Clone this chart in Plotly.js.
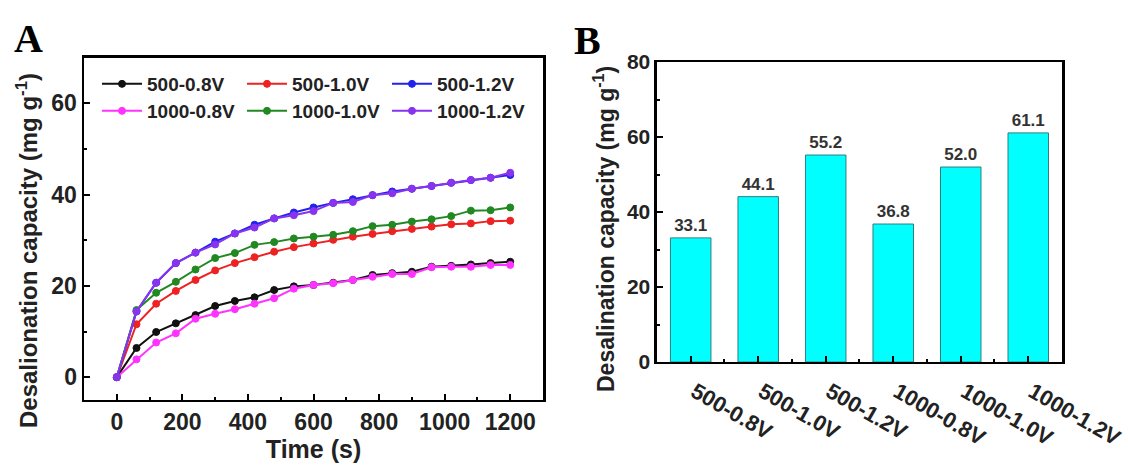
<!DOCTYPE html>
<html><head><meta charset="utf-8">
<script src="https://cdn.plot.ly/plotly-3.0.1.min.js"></script>
<style>html,body{margin:0;padding:0;background:#fff}#chart{width:1128px;height:470px}</style>
</head><body><div id="chart"></div>
<script>
const time = [0,60,120,180,240,300,360,420,480,540,600,660,720,780,840,900,960,1020,1080,1140,1200];
const s500_08 = [0,6.4,9.9,11.8,13.6,15.6,16.7,17.5,19.1,19.9,20.2,20.7,21.3,22.4,22.8,23.1,24.2,24.4,24.7,25.0,25.3];
const s500_10 = [0,11.6,16.1,18.9,21.3,23.4,25.0,26.3,27.5,28.5,29.3,30.1,30.8,31.4,32.0,32.5,33.0,33.5,33.7,34.2,34.3];
const s500_12 = [0,14.4,20.7,25.0,27.3,29.7,31.5,33.4,34.8,36.1,37.2,38.2,39.0,39.9,40.7,41.3,41.9,42.6,43.2,43.7,44.3];
const s1000_08 = [0,3.9,7.6,9.6,12.8,13.9,14.9,16.1,17.3,19.4,20.2,20.6,21.3,22.0,22.6,22.6,24.1,24.2,24.2,24.6,24.6];
const s1000_10 = [0,14.7,18.5,20.9,23.6,26.1,27.2,29.0,29.6,30.4,30.8,31.2,32.0,33.1,33.4,34.1,34.6,35.3,36.5,36.6,37.2];
const s1000_12 = [0,14.4,20.7,25.0,27.3,29.1,31.5,32.8,34.8,35.5,36.4,38.2,38.4,39.9,40.3,41.3,41.9,42.6,43.2,43.7,44.8];
const seriesNames = ['500-0.8V','500-1.0V','500-1.2V','1000-0.8V','1000-1.0V','1000-1.2V'];
const seriesColors = ['#111111','#ee2222','#2222ee','#ff33ff','#228822','#8833ee'];
const categories = ['500-0.8V','500-1.0V','500-1.2V','1000-0.8V','1000-1.0V','1000-1.2V'];
const capacity = [33.1,44.1,55.2,36.8,52.0,61.1];

const F = 'Liberation Sans, Arial, sans-serif';
const seriesData = [s500_08,s500_10,s500_12,s1000_08,s1000_10,s1000_12];
const traces = seriesData.map((ys,i)=>({
  type:'scatter', mode:'lines+markers', x:time, y:ys, name:seriesNames[i],
  legend: i < 3 ? 'legend' : 'legend2',
  line:{color:seriesColors[i], width:2},
  marker:{symbol:'circle', size:7, color:seriesColors[i], line:{color:seriesColors[i], width:1}},
  xaxis:'x', yaxis:'y'
}));
traces.push({
  type:'bar', x:categories.map((c,i)=>i), y:capacity, xaxis:'x2', yaxis:'y2', showlegend:false,
  width:0.6, marker:{color:'#00ffff', line:{color:'#2f7f7f', width:1}},
  texttemplate:'%{y:.1f}', textposition:'outside', cliponaxis:false,
  textfont:{family:F, size:17, weight:'bold', color:'#333'}
});

const axBase = {showline:true, linecolor:'#000', linewidth:2.5, mirror:true, ticks:'inside', tickwidth:2, ticklen:6,
  tickcolor:'#000', showgrid:false, zeroline:false, automargin:false,
  tickfont:{family:F, size:23, weight:'bold', color:'#222'}};
const minorBase = {ticks:'inside', ticklen:3, tickwidth:2, tickcolor:'#000'};
const legBase = {orientation:'h', xanchor:'left', yanchor:'top', bgcolor:'rgba(0,0,0,0)',
  font:{family:F, size:19, weight:'bold', color:'#222'}, entrywidth:90, entrywidthmode:'pixels', itemwidth:40};
const titleFont = (s)=>({family:F, size:s, weight:'bold', color:'#222'});

const layout = {
  width:1128, height:470, margin:{l:0,r:0,t:0,b:0}, paper_bgcolor:'#fff', plot_bgcolor:'#fff',
  font:{family:F, weight:'bold', color:'#222'},
  xaxis: Object.assign({}, axBase, {domain:[0.0745,0.4814], range:[-100,1300], tick0:0, dtick:200,
    minor:Object.assign({dtick:100}, minorBase),
    title:{text:'Time (s)', font:titleFont(25), standoff:6}}),
  yaxis: Object.assign({}, axBase, {domain:[0.149,0.877], range:[-5,70], tick0:0, dtick:20,
    minor:Object.assign({dtick:10}, minorBase)}),
  xaxis2: Object.assign({}, axBase, {anchor:'y2', domain:[0.5824,0.9415], range:[-0.5,5.5],
    tickmode:'array', tickvals:categories.map((c,i)=>i), ticktext:categories, tickangle:30,
    ticklabelshift:4, ticklabelstandoff:6, ticklabeloverflow:'allow',
    minor:Object.assign({tickmode:'linear', tick0:0.5, dtick:1}, minorBase),
    tickfont:{family:F, size:22, weight:'bold', color:'#222'}}),
  yaxis2: Object.assign({}, axBase, {anchor:'x2', domain:[0.2298,0.868], range:[0,80], dtick:20,
    minor:Object.assign({dtick:10}, minorBase),
    tickfont:{family:F, size:21, weight:'bold', color:'#222'}}),
  legend: Object.assign({}, legBase, {x:0.086, y:0.8617}),
  legend2: Object.assign({}, legBase, {x:0.086, y:0.8043}),
  showlegend:true,
  annotations:[
    {text:'Desalionation capacity (mg g<sup>-1</sup>)', textangle:-90, xref:'paper', yref:'paper',
     x:27/1128, y:1-251/470, xanchor:'center', yanchor:'middle', showarrow:false, font:titleFont(24)},
    {text:'Desalination capacity (mg g<sup>-1</sup>)', textangle:-90, xref:'paper', yref:'paper',
     x:604/1128, y:1-229/470, xanchor:'center', yanchor:'middle', showarrow:false, font:titleFont(23)},
    {text:'A', xref:'paper', yref:'paper', x:12/1128, y:1-14/470, xanchor:'left', yanchor:'top', showarrow:false,
     font:{family:'Liberation Serif, Times New Roman, serif', size:40, weight:'bold', color:'#000'}},
    {text:'B', xref:'paper', yref:'paper', x:572/1128, y:1-16/470, xanchor:'left', yanchor:'top', showarrow:false,
     font:{family:'Liberation Serif, Times New Roman, serif', size:40, weight:'bold', color:'#000'}}
  ]
};
Plotly.newPlot('chart', traces, layout, {displayModeBar:false, staticPlot:true});
</script></body></html>
